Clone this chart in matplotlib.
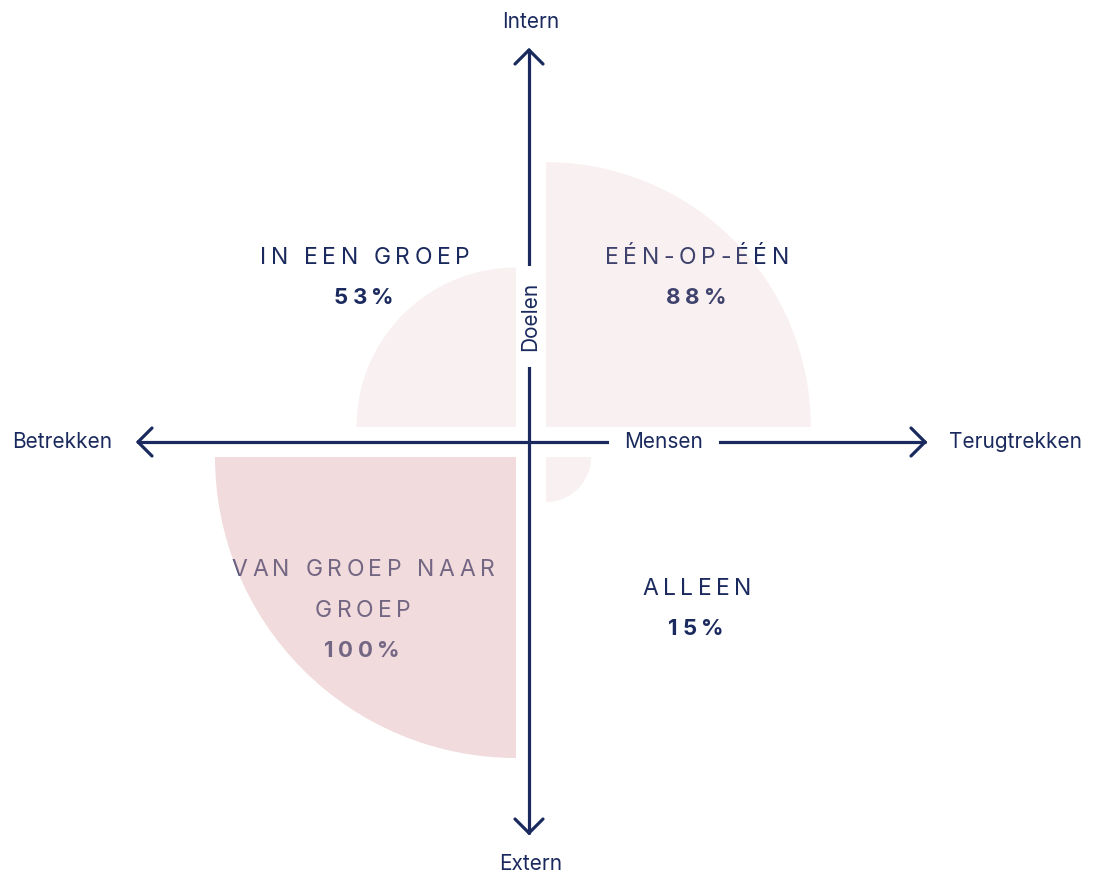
import matplotlib
matplotlib.use("Agg")
import matplotlib.pyplot as plt
from matplotlib.patches import Wedge
from matplotlib.font_manager import FontProperties, findfont
from matplotlib.ft2font import FT2Font

# ---------------- data ----------------
categories = ["EÉN-OP-ÉÉN", "IN EEN GROEP", "VAN GROEP NAAR\nGROEP", "ALLEEN"]
shares = [88, 53, 100, 15]
x_axis_labels = ["Betrekken", "Terugtrekken"]
y_axis_labels = ["Intern", "Extern"]
axis_titles = ["Mensen", "Doelen"]

# ---------------- style / layout ----------------
W, H, DPI = 1094, 874, 100
NAVY = "#1b2a5e"
WEDGE_COLOR = "#e0b0b2"
FONT = "Inter"
CX, CY = 531, 442          # pixel centre of the quadrant chart
S = 3.01                    # pixels per percentage point of radius
GAP = 15 / S

def px2d(x, y):
    return ((x - CX) / S, (CY - y) / S)

fig = plt.figure(figsize=(W / DPI, H / DPI), dpi=DPI)
ax = fig.add_axes([0, 0, 1, 1])
ax.set_xlim(px2d(0, 0)[0], px2d(W, 0)[0])
ax.set_ylim(px2d(0, H)[1], px2d(0, 0)[1])
ax.axis("off")

# ---------------- axes arrows ----------------
LW = 2.3
AX_X = 529
def line(p, q, **kw):
    a, b = px2d(*p), px2d(*q)
    ax.plot([a[0], b[0]], [a[1], b[1]], color=NAVY, lw=LW,
            solid_capstyle="round", solid_joinstyle="round", zorder=2, **kw)

line((138, CY), (925, CY))
line((AX_X, 50), (AX_X, 833))
HL, HW = 14, 14
for tip, d in [((138, CY), (1, 0)), ((925, CY), (-1, 0)),
               ((AX_X, 50), (0, 1)), ((AX_X, 833), (0, -1))]:
    bx, by = tip[0] + d[0] * HL, tip[1] + d[1] * HL
    px_, py_ = -d[1] * HW, d[0] * HW
    line((bx + px_, by + py_), tip)
    line((bx - px_, by - py_), tip)

# ---------------- axis labels ----------------
lab_fp = FontProperties(family=FONT, size=15.0)
def label(x, y, s, ha="center", **kw):
    ax.text(*px2d(x, y), s, fontproperties=lab_fp, color=NAVY, ha=ha,
            va="baseline", zorder=3, **kw)

label(531, 27.5, y_axis_labels[0])
label(531, 869.5, y_axis_labels[1])
label(12, 448, x_axis_labels[0], ha="left")
label(1082, 448, x_axis_labels[1], ha="right")

box = dict(boxstyle="square,pad=0.75", facecolor="white", edgecolor="none")
label(664, 448, axis_titles[0], bbox=box)
ax.text(*px2d(536, 316.5), axis_titles[1], fontproperties=lab_fp, color=NAVY,
        rotation=90, rotation_mode="anchor", ha="center", va="baseline",
        bbox=box, zorder=3)

# ---------------- letter-spaced text helper ----------------
def spaced(xc, y, s, size, spacing_em, weight="normal"):
    fp = FontProperties(family=FONT, size=size, weight=weight)
    font = FT2Font(findfont(fp))
    font.set_size(size, DPI)
    advs = [font.load_char(ord(c)).linearHoriAdvance / 65536 for c in s]
    sp = spacing_em * size * DPI / 72
    total = sum(advs) + sp * (len(s) - 1)
    cur = xc - total / 2
    for c, a in zip(s, advs):
        ax.text(*px2d(cur, y), c, fontproperties=fp, color=NAVY,
                ha="left", va="baseline", zorder=3)
        cur += a + sp

# ---------------- wedges + labels ----------------
quadrants = [  # (sign x, sign y, theta1, theta2, alpha, label x, baseline y)
    (1, 1, 0, 90, 0.18, 697, 263.5),
    (-1, 1, 90, 180, 0.18, 365, 263.5),
    (-1, -1, 180, 270, 0.45, 363, 575.7),
    (1, -1, 270, 360, 0.18, 697, 595),
]
LINE_STEP = 41
for cat, val, (sx, sy, t1, t2, al, lx, ly) in zip(categories, shares, quadrants):
    ax.add_patch(Wedge((sx * GAP, sy * GAP), val, t1, t2, facecolor=WEDGE_COLOR,
                       alpha=al, lw=0, zorder=5))
    lines = cat.split("\n")
    for i, ln in enumerate(lines):
        spaced(lx, ly + i * LINE_STEP, ln, 16.5, 0.2)
    spaced(lx - 1, ly + len(lines) * LINE_STEP - 1, f"{val}%", 16.0, 0.2,
           weight="bold")

fig.savefig("out.png", dpi=DPI)
